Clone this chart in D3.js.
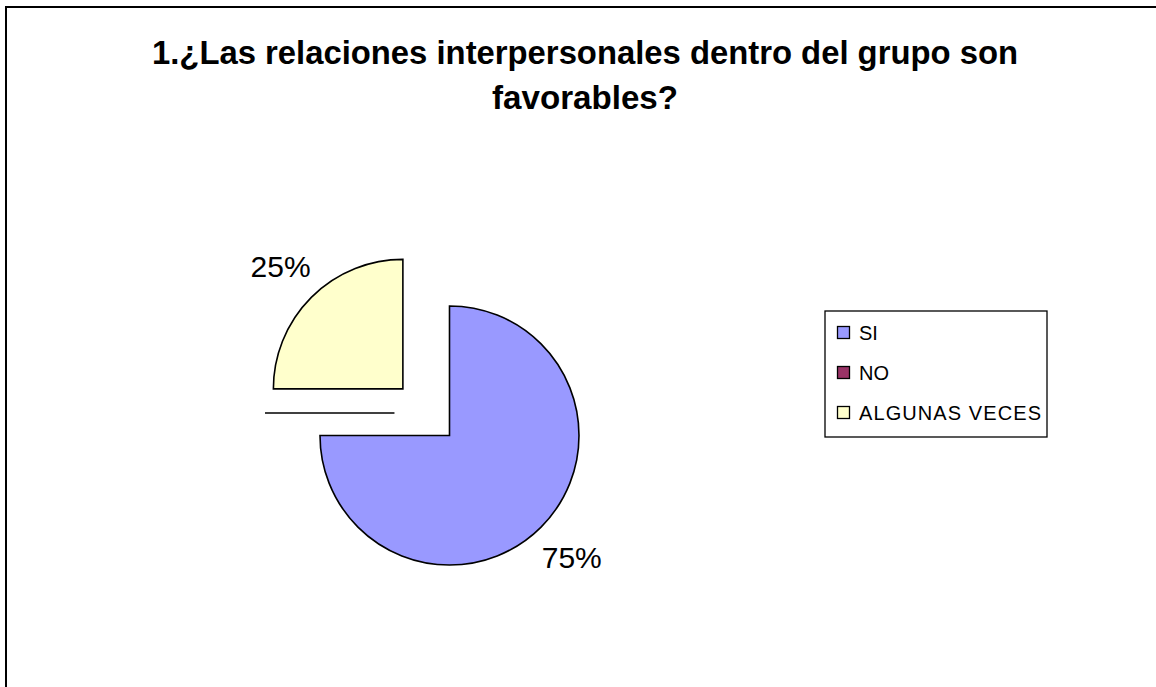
<!DOCTYPE html>
<html><head><meta charset="utf-8">
<script src="https://cdn.jsdelivr.net/npm/d3@7"></script>
<style>html,body{margin:0;padding:0;background:#fff;}svg{display:block;}</style>
</head><body>
<svg id="chart" width="1156" height="687"></svg>
<script>
const categories = ["SI", "NO", "ALGUNAS VECES"];
const values = [75, 0, 25];
const colors = ["#9999FF", "#993366", "#FFFFCC"];
const titleLines = ["1.¿Las relaciones interpersonales dentro del grupo son", "favorables?"];
// explosion of each slice, as fraction of radius (dx, dy)
const explodeX = [0, -0.425, -0.36];
const explodeY = [0, -0.174, -0.36];

const svg = d3.select("#chart");
const FONT = "Liberation Sans, Arial, sans-serif";

// outer chart border (extends beyond view on right/bottom)
svg.append("rect").attr("x", 6).attr("y", 7).attr("width", 1300).attr("height", 900)
  .attr("fill", "#fff").attr("stroke", "#000").attr("stroke-width", 2);

// title
const titleWidths = [866, 186];
titleLines.forEach((t, i) => {
  svg.append("text").attr("x", 585).attr("y", 64 + i * 45)
    .attr("text-anchor", "middle")
    .attr("font-family", FONT)
    .attr("font-weight", "bold").attr("font-size", 33)
    .attr("textLength", titleWidths[i]).attr("lengthAdjust", "spacingAndGlyphs")
    .text(t);
});

const cx = 449.5, cy = 435.5, r = 129.5;
const pie = d3.pie().sort(null).value(d => d.value);
const data = categories.map((c, i) => ({ name: c, value: values[i], color: colors[i], i }));
const arcs = pie(data);
const arc = d3.arc().innerRadius(0).outerRadius(r);
const labelArc = d3.arc().innerRadius(r * 1.335).outerRadius(r * 1.335);
const total = d3.sum(values);

const g = svg.append("g").attr("transform", `translate(${cx},${cy})`);
arcs.forEach(a => {
  const i = a.data.i;
  const gx = explodeX[i] * r, gy = explodeY[i] * r;
  const sg = g.append("g").attr("transform", `translate(${gx},${gy})`);
  if (a.value > 0) {
    sg.append("path").attr("d", arc(a)).attr("fill", a.data.color)
      .attr("stroke", "#000").attr("stroke-width", 1.6).attr("stroke-linejoin", "miter");
    const [lx, ly] = labelArc.centroid(a);
    sg.append("text").attr("x", lx).attr("y", ly)
      .attr("text-anchor", "middle").attr("dominant-baseline", "central")
      .attr("font-family", FONT).attr("font-size", 30)
      .text(Math.round(a.value / total * 100) + "%");
  } else {
    // zero-size slice drawn as a single radius line
    const ang = a.startAngle;
    sg.append("line").attr("x1", 0).attr("y1", 0)
      .attr("x2", Math.sin(ang) * r).attr("y2", -Math.cos(ang) * r)
      .attr("stroke", "#000").attr("stroke-width", 1.6);
  }
});

// legend
const lg = svg.append("g").attr("transform", "translate(825,311)");
lg.append("rect").attr("width", 222).attr("height", 126).attr("fill", "#fff")
  .attr("stroke", "#000").attr("stroke-width", 1.3);
categories.forEach((c, i) => {
  const y = 21.5 + i * 40;
  lg.append("rect").attr("x", 12.5).attr("y", y - 6).attr("width", 12).attr("height", 12)
    .attr("fill", colors[i]).attr("stroke", "#000").attr("stroke-width", 1.3);
  const t = lg.append("text").attr("x", 34).attr("y", y).attr("dominant-baseline", "central")
    .attr("font-family", FONT).attr("font-size", 20)
    .text(c);
  if (c.length > 3) t.attr("textLength", 182).attr("lengthAdjust", "spacing");
});
</script>
</body></html>
